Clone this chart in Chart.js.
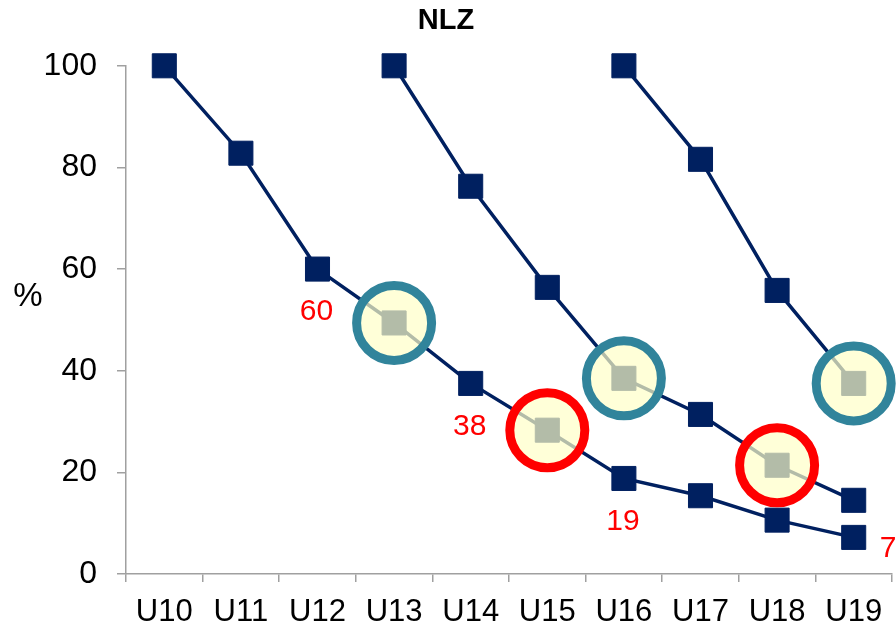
<!DOCTYPE html>
<html>
<head>
<meta charset="utf-8">
<script src="https://cdn.jsdelivr.net/npm/chart.js@4/dist/chart.umd.min.js"></script>
<style>
  html, body { margin: 0; padding: 0; background: #fff; }
  #wrap { width: 896px; height: 627px; }
</style>
</head>
<body>
<div id="wrap"><canvas id="myChart"></canvas></div>
<script>
const categories = ['U10', 'U11', 'U12', 'U13', 'U14', 'U15', 'U16', 'U17', 'U18', 'U19'];
const cohortA = [100, 82.8, 60, 49.4, 37.5, 28.3, 18.8, 15.4, 10.6, 7.2];
const cohortB = [null, null, null, 100, 76.3, 56.4, 38.5, 31.4, 21.4, 14.5];
const cohortC = [null, null, null, null, null, null, 100, 81.6, 55.8, 37.5];
const yTicks = [0, 20, 40, 60, 80, 100];

// red value labels on the first line: [category index, text, side]
const valueLabels = [[2, '60', 'below'], [4, '38', 'below'], [6, '19', 'below'], [9, '7', 'right']];
// circled points: [dataset index, category index]
const tealCircles = [[0, 3], [1, 6], [2, 9]];
const redCircles = [[0, 5], [1, 8]];

const navy = '#002060';
const axisGrey = '#A0A0A0';
const font = '"Liberation Sans", Arial, sans-serif';

const overlay = {
    id: 'overlay',
    afterDatasetsDraw(chart) {
        const ctx = chart.ctx;
        const ring = (list, colour) => {
            list.forEach(([ds, i]) => {
                const pt = chart.getDatasetMeta(ds).data[i];
                ctx.save();
                ctx.beginPath();
                ctx.arc(pt.x, pt.y, 37.5, 0, Math.PI * 2);
                ctx.fillStyle = 'rgba(255,255,199,0.7)';
                ctx.fill();
                ctx.lineWidth = 9;
                ctx.strokeStyle = colour;
                ctx.stroke();
                ctx.restore();
            });
        };
        ring(tealCircles, '#31849B');
        ring(redCircles, '#FF0000');

        ctx.save();
        ctx.fillStyle = '#FF0000';
        ctx.font = '30px ' + font;
        ctx.textBaseline = 'middle';
        valueLabels.forEach(([i, txt, side]) => {
            const pt = chart.getDatasetMeta(0).data[i];
            if (side === 'right') {
                ctx.textAlign = 'left';
                ctx.fillText(txt, pt.x + 26, pt.y + 11);
            } else {
                ctx.textAlign = 'center';
                ctx.fillText(txt, pt.x - 1, pt.y + 43);
            }
        });
        ctx.restore();

        // unrotated "%" axis label
        const y = chart.scales.y;
        ctx.save();
        ctx.fillStyle = '#000';
        ctx.font = '33px ' + font;
        ctx.textAlign = 'center';
        ctx.textBaseline = 'middle';
        ctx.fillText('%', 28, y.getPixelForValue(54.5));
        ctx.restore();
    }
};

const lineSet = (data) => ({
    data: data,
    borderColor: navy,
    backgroundColor: navy,
    borderWidth: 3.5,
    pointStyle: 'rect',
    pointRadius: 17,
    pointHoverRadius: 17,
    pointBorderWidth: 1,
    tension: 0,
    clip: false
});

new Chart(document.getElementById('myChart'), {
    type: 'line',
    data: {
        labels: categories,
        datasets: [lineSet(cohortA), lineSet(cohortB), lineSet(cohortC)]
    },
    options: {
        responsive: true,
        maintainAspectRatio: false,
        animation: false,
        layout: { autoPadding: false, padding: { left: 0, right: 4, top: 0, bottom: 0 } },
        plugins: {
            legend: { display: false },
            tooltip: { enabled: false },
            title: {
                display: true,
                text: 'NLZ',
                color: '#000',
                font: { family: font, size: 29, weight: 'bold' },
                padding: { top: 4, bottom: 27 }
            }
        },
        scales: {
            x: {
                offset: true,
                grid: { display: true, drawOnChartArea: false, offset: true, color: axisGrey, lineWidth: 1.5, tickLength: 8 },
                border: { color: axisGrey, width: 1.5 },
                ticks: { color: '#000', font: { family: font, size: 31 }, padding: 12, maxRotation: 0 },
                afterFit: (scale) => {
                    scale.height = 53;
                    scale.paddingLeft = 0;
                    scale.paddingRight = 0;
                }
            },
            y: {
                min: 0,
                max: 100,
                afterBuildTicks: (scale) => { scale.ticks = yTicks.map(v => ({ value: v })); },
                grid: { display: true, drawOnChartArea: false, color: axisGrey, lineWidth: 1.5, tickLength: 9 },
                border: { color: axisGrey, width: 1.5 },
                ticks: { color: '#000', font: { family: font, size: 32 }, padding: 20 },
                afterFit: (scale) => { scale.width = 126; }
            }
        }
    },
    plugins: [overlay]
});
</script>
</body>
</html>
